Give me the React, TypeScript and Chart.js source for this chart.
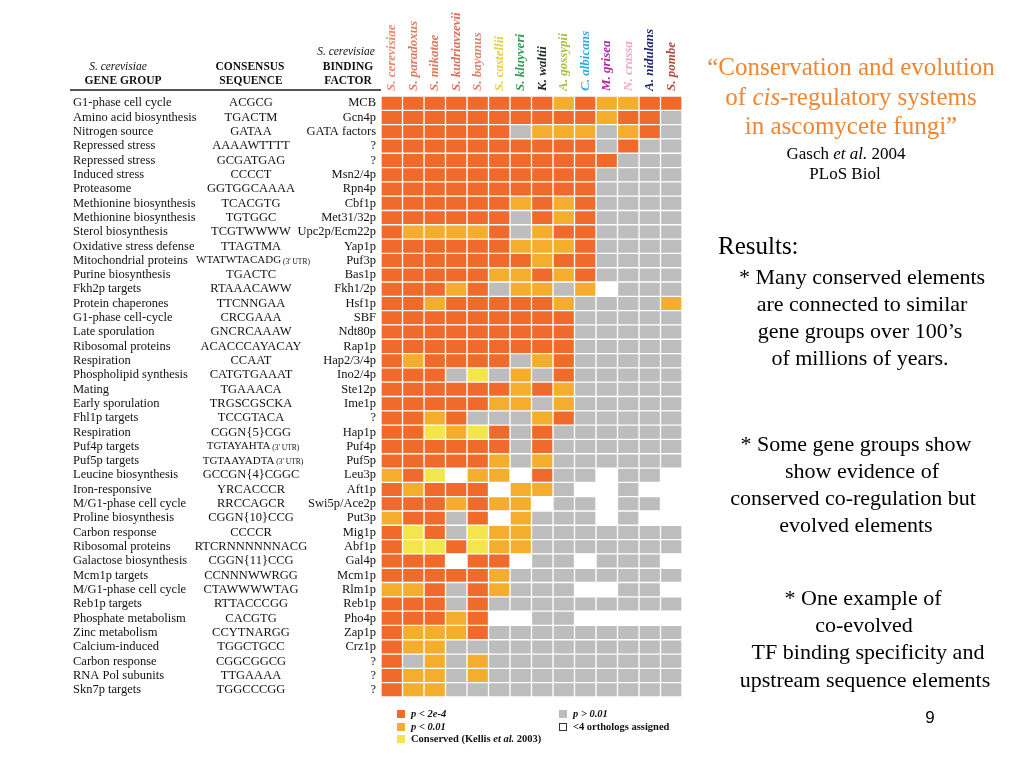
import React, { useEffect, useRef } from "react";
import { Chart, registerables } from "chart.js";

Chart.register(...registerables);

const species = [
  "S. cerevisiae", "S. paradoxus", "S. mikatae", "S. kudriavzevii", "S. bayanus",
  "S. castellii", "S. kluyveri", "K. waltii", "A. gossypii", "C. albicans",
  "M. grisea", "N. crassa", "A. nidulans", "S. pombe",
];
const speciesColors = [
  "#e98a6e", "#e07a5e", "#e07860", "#dc6e5a", "#e0806a",
  "#e6cf3a", "#2e9a4e", "#1c2a2a", "#a8c040", "#2aaed8",
  "#b02aa8", "#f0a8c8", "#1e2470", "#b04a3a",
];

const geneGroups = [
  "G1-phase cell cycle", "Amino acid biosynthesis", "Nitrogen source", "Repressed stress",
  "Repressed stress", "Induced stress", "Proteasome", "Methionine biosynthesis",
  "Methionine biosynthesis", "Sterol biosynthesis", "Oxidative stress defense",
  "Mitochondrial proteins", "Purine biosynthesis", "Fkh2p targets", "Protein chaperones",
  "G1-phase cell-cycle", "Late sporulation", "Ribosomal proteins", "Respiration",
  "Phospholipid synthesis", "Mating", "Early sporulation", "Fhl1p targets", "Respiration",
  "Puf4p targets", "Puf5p targets", "Leucine biosynthesis", "Iron-responsive",
  "M/G1-phase cell cycle", "Proline biosynthesis", "Carbon response", "Ribosomal proteins",
  "Galactose biosynthesis", "Mcm1p targets", "M/G1-phase cell cycle", "Reb1p targets",
  "Phosphate metabolism", "Zinc metabolism", "Calcium-induced", "Carbon response",
  "RNA Pol subunits", "Skn7p targets",
];

const consensus = [
  "ACGCG", "TGACTM", "GATAA", "AAAAWTTTT", "GCGATGAG", "CCCCT", "GGTGGCAAAA", "TCACGTG",
  "TGTGGC", "TCGTWWWW", "TTAGTMA", "WTATWTACADG (3' UTR)", "TGACTC", "RTAAACAWW",
  "TTCNNGAA", "CRCGAAA", "GNCRCAAAW", "ACACCCAYACAY", "CCAAT", "CATGTGAAAT", "TGAAACA",
  "TRGSCGSCKA", "TCCGTACA", "CGGN{5}CGG", "TGTAYAHTA (3' UTR)", "TGTAAYADTA (3' UTR)",
  "GCCGN{4}CGGC", "YRCACCCR", "RRCCAGCR", "CGGN{10}CCG", "CCCCR", "RTCRNNNNNNACG",
  "CGGN{11}CCG", "CCNNNWWRGG", "CTAWWWWTAG", "RTTACCCGG", "CACGTG", "CCYTNARGG",
  "TGGCTGCC", "CGGCGGCG", "TTGAAAA", "TGGCCCGG",
];

const bindingFactors = [
  "MCB", "Gcn4p", "GATA factors", "?", "?", "Msn2/4p", "Rpn4p", "Cbf1p", "Met31/32p",
  "Upc2p/Ecm22p", "Yap1p", "Puf3p", "Bas1p", "Fkh1/2p", "Hsf1p", "SBF", "Ndt80p", "Rap1p",
  "Hap2/3/4p", "Ino2/4p", "Ste12p", "Ime1p", "?", "Hap1p", "Puf4p", "Puf5p", "Leu3p",
  "Aft1p", "Swi5p/Ace2p", "Put3p", "Mig1p", "Abf1p", "Gal4p", "Mcm1p", "Rlm1p", "Reb1p",
  "Pho4p", "Zap1p", "Crz1p", "?", "?", "?",
];

// O: p < 2e-4, Y: p < 0.01, L: conserved (Kellis 2003), G: p > 0.01, W: <4 orthologs
const cellStatus = [
  "OOOOOOOOYOYYOO",
  "OOOOOOOOOOYOOG",
  "OOOOOOGYYYGYOG",
  "OOOOOOOOOOGOGG",
  "OOOOOOOOOOOGGG",
  "OOOOOOOOOOGGGG",
  "OOOOOOOOOOGGGG",
  "OOOOOOYOYOGGGG",
  "OOOOOOGOYOGGGG",
  "OYYYYOGYOOGGGG",
  "OOOOOOYYYOGGGG",
  "OOOOOOOYOOGGGG",
  "OOOOOYYOYOGGGG",
  "OOOYOGYYGYWGGG",
  "OOYOOOOOYGGGGY",
  "OOOOOOOOOGGGGG",
  "OOOOOOOOOGGGGG",
  "OOOOOOOOOGGGGG",
  "OYOOOOGYOGGGGG",
  "OOOGLGYGOGGGGG",
  "OOOOOOYOYGGGGG",
  "OOOOOYYGYGGGGG",
  "OOYOGGGYOGGGGG",
  "OOLYLOGOGGGGGG",
  "OOOOOOGOGGGGGG",
  "OOOOOYGYGGGGGG",
  "YOLWYYWOGGWGGW",
  "OYOOOWYYGWWGWW",
  "OOOYOYYWGGWGGW",
  "YOOGOWYGGGWGWW",
  "OLOGLYYGGGGGGG",
  "OLLOLYYGGGGGGG",
  "OOOWOOWGGWGGGW",
  "OOOOOYGGGGGGGG",
  "YYOGOYGGGWWGGW",
  "OOOGOGGGGGGGGG",
  "OOOYOWWGGWWWWW",
  "OYYYOGGGGGGGGG",
  "OYYGGGGGGGGGGG",
  "OGYGYGGGGGGGGG",
  "OYYGYGGGGGGGGG",
  "OYYGGGGGGGGGGG",
];

const statusColors: Record<string, string> = {
  O: "#ef6a2b",
  Y: "#f4ad2c",
  L: "#f3e54c",
  G: "#bdbdbd",
  W: "#ffffff",
};

const SERIF = '"Liberation Serif", "Times New Roman", serif';

type Seg = { t: string; i?: boolean };

function drawSegs(ctx: CanvasRenderingContext2D, segs: Seg[], x: number, y: number, size: number, bold: boolean) {
  let cx = x;
  for (const s of segs) {
    ctx.font = `${s.i ? "italic " : ""}${bold ? "bold " : ""}${size}px ${SERIF}`;
    ctx.fillText(s.t, cx, y);
    cx += ctx.measureText(s.t).width;
  }
}

const tablePlugin = {
  id: "tableText",
  afterDraw(chart: any) {
    const ctx: CanvasRenderingContext2D = chart.ctx;
    const area = chart.chartArea;
    const xs = chart.scales.x;
    const ys = chart.scales.y;
    ctx.save();
    ctx.fillStyle = "#111";
    ctx.textBaseline = "middle";

    // column headers
    const hb = `bold 11.5px ${SERIF}`;
    const hi = `italic 11.5px ${SERIF}`;
    ctx.textAlign = "center";
    ctx.font = hi;
    ctx.fillText("S. cerevisiae", 118, 67);
    ctx.font = hb;
    ctx.fillText("GENE GROUP", 123, 81);
    ctx.fillText("CONSENSUS", 250, 67);
    ctx.fillText("SEQUENCE", 251, 81);
    ctx.font = hi;
    ctx.fillText("S. cerevisiae", 346, 52);
    ctx.font = hb;
    ctx.fillText("BINDING", 348, 67);
    ctx.fillText("FACTOR", 348, 81);

    ctx.strokeStyle = "#555";
    ctx.lineWidth = 2;
    ctx.beginPath();
    ctx.moveTo(70, 90);
    ctx.lineTo(area.left, 90);
    ctx.stroke();

    // rows
    const rowFont = `12.5px ${SERIF}`;
    const mainSmall = `11px ${SERIF}`;
    const sufFont = `7.5px ${SERIF}`;
    geneGroups.forEach((g, i) => {
      const y = ys.getPixelForValue(i);
      ctx.font = rowFont;
      ctx.textAlign = "left";
      ctx.fillText(g, 73, y);
      const seq = consensus[i];
      const k = seq.indexOf(" (");
      if (k >= 0) {
        const main = seq.slice(0, k);
        const suf = seq.slice(k);
        ctx.font = mainSmall;
        const w1 = ctx.measureText(main).width;
        ctx.font = sufFont;
        const w2 = ctx.measureText(suf).width;
        const x0 = 253 - (w1 + w2) / 2;
        ctx.textAlign = "left";
        ctx.font = mainSmall;
        ctx.fillText(main, x0, y);
        ctx.font = sufFont;
        ctx.fillText(suf, x0 + w1, y + 1);
      } else {
        ctx.font = rowFont;
        ctx.textAlign = "center";
        ctx.fillText(seq, 251, y);
      }
      ctx.font = rowFont;
      ctx.textAlign = "right";
      ctx.fillText(bindingFactors[i], area.left - 5, y);
    });

    // species headers
    species.forEach((s, j) => {
      const x = xs.getPixelForValue(j + 0.5);
      ctx.save();
      ctx.translate(x, area.top - 5);
      ctx.rotate(-Math.PI / 2);
      ctx.textAlign = "left";
      ctx.textBaseline = "middle";
      ctx.fillStyle = speciesColors[j];
      ctx.font = `italic bold 13px ${SERIF}`;
      ctx.fillText(s, 0, 0);
      ctx.restore();
    });

    // legend
    const lx = area.left + 16;
    const ly = area.bottom + 17;
    const items: { c: string; segs: Seg[]; x: number; y: number; box?: boolean }[] = [
      { c: statusColors.O, segs: [{ t: "p", i: true }, { t: " < 2e-4", i: true }], x: lx, y: ly },
      { c: statusColors.Y, segs: [{ t: "p", i: true }, { t: " < 0.01", i: true }], x: lx, y: ly + 13 },
      { c: statusColors.L, segs: [{ t: "Conserved (Kellis " }, { t: "et al.", i: true }, { t: " 2003)" }], x: lx, y: ly + 25 },
      { c: statusColors.G, segs: [{ t: "p", i: true }, { t: " > 0.01", i: true }], x: lx + 162, y: ly },
      { c: statusColors.W, segs: [{ t: "<4 orthologs assigned" }], x: lx + 162, y: ly + 13, box: true },
    ];
    items.forEach((it) => {
      ctx.fillStyle = it.c;
      ctx.fillRect(it.x, it.y - 4, 8, 8);
      if (it.box) {
        ctx.strokeStyle = "#333";
        ctx.lineWidth = 1;
        ctx.strokeRect(it.x + 0.5, it.y - 3.5, 7, 7);
      }
      ctx.fillStyle = "#111";
      ctx.textAlign = "left";
      drawSegs(ctx, it.segs, it.x + 14, it.y, 10.5, true);
    });

    ctx.restore();
  },
};

type Line = { t: React.ReactNode; cx: number; cy: number; size: number; color?: string };

const textLines: Line[] = [
  { t: <>“Conservation and evolution</>, cx: 851, cy: 67, size: 25, color: "#ef8632" },
  { t: <>of <i>cis</i>-regulatory systems</>, cx: 851, cy: 97, size: 25, color: "#ef8632" },
  { t: <>in ascomycete fungi”</>, cx: 851, cy: 126, size: 25, color: "#ef8632" },
  { t: <>Gasch <i>et al.</i> 2004</>, cx: 846, cy: 154, size: 17 },
  { t: <>PLoS Biol</>, cx: 845, cy: 174, size: 17 },
  { t: <>* Many conserved elements</>, cx: 862, cy: 277, size: 22 },
  { t: <>are connected to similar</>, cx: 862, cy: 304, size: 22 },
  { t: <>gene groups over 100’s</>, cx: 860, cy: 331, size: 22 },
  { t: <>of millions of years.</>, cx: 860, cy: 358, size: 22 },
  { t: <>* Some gene groups show</>, cx: 856, cy: 444, size: 22 },
  { t: <>show evidence of</>, cx: 862, cy: 471, size: 22 },
  { t: <>conserved co-regulation but</>, cx: 853, cy: 498, size: 22 },
  { t: <>evolved elements</>, cx: 856, cy: 525, size: 22 },
  { t: <>* One example of</>, cx: 863, cy: 598, size: 22 },
  { t: <>co-evolved</>, cx: 864, cy: 625, size: 22 },
  { t: <>TF binding specificity and</>, cx: 868, cy: 652, size: 22 },
  { t: <>upstream sequence elements</>, cx: 865, cy: 680, size: 22 },
];

export default function App() {
  const ref = useRef<HTMLCanvasElement | null>(null);

  useEffect(() => {
    if (!ref.current) return;
    const datasets = species.map((sp, j) => ({
      label: sp,
      data: cellStatus.map(() => [j, j + 1] as [number, number]),
      backgroundColor: cellStatus.map((r) => statusColors[r[j]]),
      borderColor: "#ffffff",
      borderWidth: 1,
      borderSkipped: false as const,
      barPercentage: 1,
      categoryPercentage: 1,
      grouped: false,
    }));
    const chart = new Chart(ref.current, {
      type: "bar",
      data: { labels: geneGroups, datasets: datasets as any },
      options: {
        animation: false,
        responsive: false,
        indexAxis: "y",
        layout: { padding: { left: 381, right: 342, top: 96, bottom: 71 } },
        scales: {
          x: { type: "linear", min: 0, max: species.length, display: false },
          y: { type: "category", display: false, offset: true },
        },
        plugins: { legend: { display: false }, tooltip: { enabled: false } },
      },
      plugins: [tablePlugin],
    });
    return () => chart.destroy();
  }, []);

  return (
    <div style={{ position: "fixed", left: 0, top: 0, width: 1024, height: 768, background: "#fff", fontFamily: SERIF, overflow: "hidden" }}>
      <canvas ref={ref} width={1024} height={768} style={{ position: "absolute", left: 0, top: 0, width: 1024, height: 768 }} />
      {textLines.map((l, k) => (
        <div
          key={k}
          style={{
            position: "absolute",
            left: l.cx - 200,
            width: 400,
            top: l.cy - l.size * 0.6,
            height: l.size * 1.2,
            lineHeight: `${l.size * 1.2}px`,
            fontSize: l.size,
            textAlign: "center",
            color: l.color || "#000",
            whiteSpace: "nowrap",
          }}
        >
          {l.t}
        </div>
      ))}
      <div style={{ position: "absolute", left: 718, top: 246 - 15, height: 30, lineHeight: "30px", fontSize: 25, color: "#000", whiteSpace: "nowrap" }}>
        Results:
      </div>
      <div style={{ position: "absolute", left: 910, width: 40, top: 708, height: 20, lineHeight: "20px", fontSize: 17, textAlign: "center", fontFamily: '"Liberation Sans", Arial, sans-serif' }}>
        9
      </div>
    </div>
  );
}
